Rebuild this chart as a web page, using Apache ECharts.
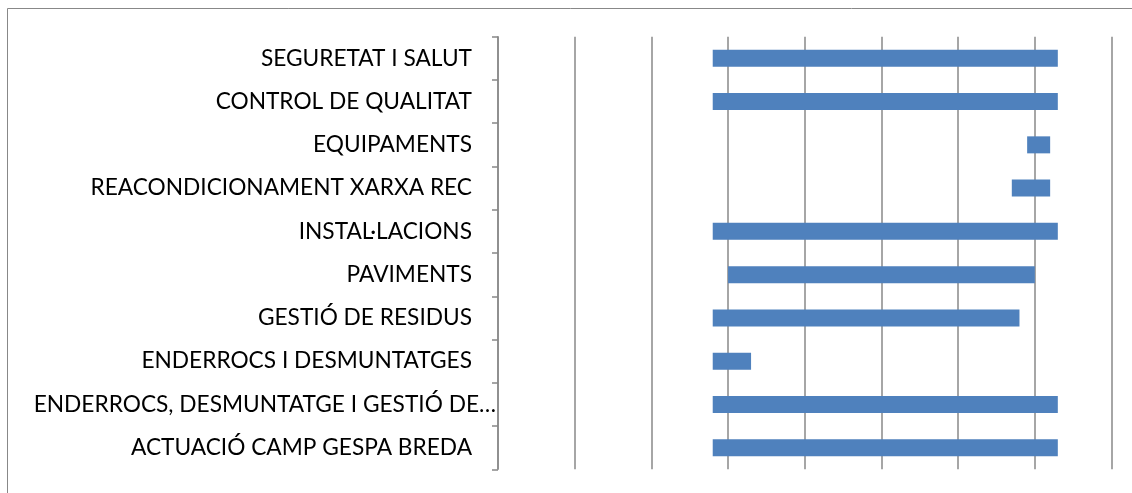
<!DOCTYPE html>
<html>
<head>
<meta charset="utf-8">
<script src="https://cdn.jsdelivr.net/npm/echarts@6/dist/echarts.min.js"></script>
<style>
html,body{margin:0;padding:0;background:#fff;}
#c{width:1132px;height:493px;}
</style>
</head>
<body>
<div id="c"></div>
<script>
// Task names (top to bottom)
const categories = [
  'SEGURETAT I SALUT',
  'CONTROL DE QUALITAT',
  'EQUIPAMENTS',
  'REACONDICIONAMENT XARXA REC',
  'INSTAL·LACIONS',
  'PAVIMENTS',
  'GESTIÓ DE RESIDUS',
  'ENDERROCS I DESMUNTATGES',
  'ENDERROCS, DESMUNTATGE I GESTIÓ DE…',
  'ACTUACIÓ CAMP GESPA BREDA'
];
// Start and end of each task, in axis units (grid intervals)
const startValues = [2.8, 2.8, 6.9, 6.7, 2.8, 3.0, 2.8, 2.8, 2.8, 2.8];
const endValues   = [7.3, 7.3, 7.2, 7.2, 7.3, 7.0, 6.8, 3.3, 7.3, 7.3];
// Axis range
const axisMin = 0, axisMax = 8, axisInterval = 1;

const durations = endValues.map((e, i) => +(e - startValues[i]).toFixed(3));

const FONT = 'Lato';
const FS = 22.7;

const chart = echarts.init(document.getElementById('c'), null, {renderer: 'canvas'});
chart.setOption({
  animation: false,
  backgroundColor: '#fff',
  graphic: [{
    type: 'rect',
    shape: {x: 7.5, y: 8.5, width: 1300, height: 700},
    style: {fill: 'none', stroke: '#888', lineWidth: 1},
    silent: true, z: -10
  }],
  grid: {left: 498, right: 20.5, top: 36.7, bottom: 23.7, containLabel: false},
  xAxis: {
    type: 'value', min: axisMin, max: axisMax, interval: axisInterval,
    axisLine: {show: false}, axisTick: {show: false}, axisLabel: {show: false},
    splitLine: {show: true, lineStyle: {color: '#888', width: 1.5}}
  },
  yAxis: {
    type: 'category', data: categories, inverse: true,
    axisLine: {show: true, lineStyle: {color: '#888', width: 1.5}},
    axisTick: {show: true, length: 6, lineStyle: {color: '#888', width: 1.5}},
    axisLabel: {
      margin: 2, color: '#000', fontFamily: FONT, fontSize: FS,
      formatter: (v) => v.endsWith('…') ? v : '{p|' + v + '}',
      rich: {p: {padding: [0, 24, 0, 0], color: '#000', fontFamily: FONT, fontSize: FS}}
    },
    splitLine: {show: false}
  },
  series: [
    {
      type: 'bar', stack: 'g', data: startValues, barWidth: 17,
      itemStyle: {color: 'transparent'}, silent: true
    },
    {
      type: 'bar', stack: 'g', data: durations, barWidth: 17,
      itemStyle: {color: '#4F81BD'}
    }
  ]
});
</script>
</body>
</html>
